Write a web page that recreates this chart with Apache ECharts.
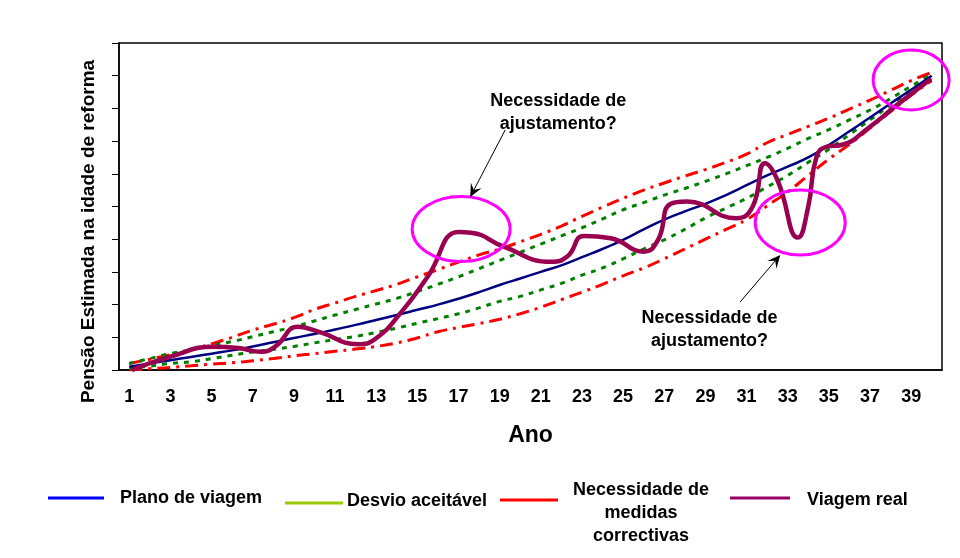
<!DOCTYPE html>
<html>
<head>
<meta charset="UTF-8">
<script src="https://cdn.jsdelivr.net/npm/echarts@6/dist/echarts.min.js"></script>
<title>Plano de viagem</title>
<style>
	html, body {
		margin: 0;
		padding: 0;
		background: #fff;
	}

	#main {
		width: 960px;
		height: 558px;
	}
</style>
</head>

<body>
	<div id="main"></div>
</body>
<script type="text/javascript">
	// categorias (anos) e séries
	var anos = ['1', '2', '3', '4', '5', '6', '7', '8', '9', '10',
		'11', '12', '13', '14', '15', '16', '17', '18', '19', '20',
		'21', '22', '23', '24', '25', '26', '27', '28', '29', '30',
		'31', '32', '33', '34', '35', '36', '37', '38', '39', '40'];

	var planoViagem = [0.1, 0.2, 0.3, 0.4, 0.5, 0.6, 0.72, 0.85, 0.98, 1.1,
		1.24, 1.38, 1.53, 1.68, 1.84, 2.0, 2.18, 2.38, 2.6, 2.8,
		3.0, 3.2, 3.45, 3.7, 3.98, 4.3, 4.6, 4.85, 5.08, 5.35,
		5.65, 5.95, 6.22, 6.5, 6.88, 7.3, 7.72, 8.15, 8.57, 9.0];

	var desvioSuperior = [0.2, 0.35, 0.5, 0.62, 0.75, 0.87, 1.02, 1.17, 1.32, 1.5,
		1.68, 1.85, 2.02, 2.19, 2.4, 2.62, 2.85, 3.1, 3.35, 3.6,
		3.85, 4.1, 4.35, 4.62, 4.9, 5.12, 5.35, 5.55, 5.77, 6.0,
		6.25, 6.5, 6.78, 7.08, 7.35, 7.65, 7.95, 8.3, 8.68, 9.05];

	var desvioInferior = [0.05, 0.12, 0.2, 0.25, 0.35, 0.45, 0.55, 0.63, 0.72, 0.83,
		0.93, 1.03, 1.15, 1.28, 1.43, 1.57, 1.72, 1.9, 2.1, 2.25,
		2.45, 2.65, 2.9, 3.12, 3.4, 3.7, 3.98, 4.3, 4.65, 4.95,
		5.25, 5.6, 5.95, 6.35, 6.75, 7.2, 7.65, 8.1, 8.55, 8.95];

	var medidasSuperior = [0.2, 0.33, 0.47, 0.62, 0.8, 1.0, 1.22, 1.4, 1.6, 1.85,
		2.05, 2.25, 2.43, 2.62, 2.85, 3.07, 3.3, 3.52, 3.7, 3.92,
		4.15, 4.4, 4.7, 4.98, 5.25, 5.5, 5.72, 5.93, 6.13, 6.35,
		6.6, 6.95, 7.2, 7.45, 7.7, 7.98, 8.25, 8.55, 8.85, 9.1];

	var medidasInferior = [0.0, 0.04, 0.08, 0.13, 0.18, 0.22, 0.28, 0.35, 0.43, 0.5,
		0.57, 0.64, 0.72, 0.83, 0.98, 1.17, 1.3, 1.42, 1.55, 1.72,
		1.92, 2.15, 2.38, 2.62, 2.88, 3.12, 3.4, 3.7, 4.0, 4.3,
		4.6, 5.02, 5.45, 5.95, 6.45, 6.9, 7.4, 7.9, 8.4, 8.85];

	// viagem real: pontos em anos fracionários (picos estreitos)
	var anosReal = [1.2, 3.0, 5.1, 6.3, 7.4, 8.1, 9.2, 10.3, 12.1, 13.0,
		14.3, 15.5, 17.0, 17.6, 19.2, 21.5, 22.3, 23.1, 24.4, 26.0,
		26.7, 27.3, 28.1, 30.5, 31.3, 31.9, 32.5, 33.5, 34.0, 34.4,
		34.9, 35.6, 37.0, 38.3, 39.9];
	var valoresReal = [0.02, 0.41, 0.71, 0.67, 0.56, 0.72, 1.32, 1.15, 0.79, 0.97,
		1.83, 2.85, 4.22, 4.2, 3.77, 3.31, 3.48, 4.1, 4.03, 3.62,
		3.98, 5.08, 5.15, 4.64, 5.0, 6.32, 5.81, 4.05, 5.0, 6.52,
		6.83, 6.88, 7.44, 8.1, 8.87];

	var fonte = '"Liberation Sans", Arial, sans-serif';

	var myChart = echarts.init(document.getElementById('main'));

	function linha(nome, dados, cor, largura, tipo, z) {
		return {
			name: nome,
			type: 'line',
			data: dados,
			smooth: true,
			showSymbol: false,
			silent: true,
			z: z,
			lineStyle: { color: cor, width: largura, type: tipo, cap: 'butt' }
		};
	}

	var real = linha('Viagem real', anosReal.map(function (a, i) { return [a, valoresReal[i]]; }),
		'#990050', 4.5, 'solid', 5);
	real.xAxisIndex = 1;
	real.lineStyle.cap = 'round';
	real.lineStyle.join = 'round';

	myChart.setOption({
		animation: false,
		grid: {
			left: 119, right: 18, top: 43, bottom: 188,
			show: true, borderColor: '#000', borderWidth: 1.5
		},
		xAxis: [
			{
				type: 'category',
				data: anos,
				boundaryGap: true,
				name: 'Ano',
				nameLocation: 'middle',
				nameGap: 54,
				nameTextStyle: { fontFamily: fonte, fontWeight: 'bold', fontSize: 23, color: '#000' },
				axisLine: { lineStyle: { color: '#000', width: 1.5 } },
				axisTick: { interval: 0, length: 5, lineStyle: { color: '#000' } },
				axisLabel: {
					interval: 1, margin: 18, color: '#000',
					fontFamily: fonte, fontWeight: 'bold', fontSize: 18
				},
				splitLine: { show: false }
			},
			{
				// eixo auxiliar para anos fracionários, alinhado com as categorias
				type: 'value', min: 0.5, max: 40.5, show: false
			}
		],
		yAxis: {
			type: 'value',
			min: 0, max: 10, interval: 1,
			name: 'Pensão Estimada na idade de reforma',
			nameLocation: 'middle',
			nameRotate: 90,
			nameGap: 21,
			nameTextStyle: {
				fontFamily: fonte, fontWeight: 'bold', fontSize: 19, color: '#000',
				padding: [0, 50, 0, 0]
			},
			axisLine: { show: true, lineStyle: { color: '#000', width: 1.5 } },
			axisTick: { show: true, length: 7, lineStyle: { color: '#000' } },
			axisLabel: { show: false },
			splitLine: { show: false }
		},
		series: [
			linha('Medidas inferior', medidasInferior, '#ff0000', 3, [13, 6, 3, 6], 2),
			linha('Medidas superior', medidasSuperior, '#ff0000', 3, [13, 6, 3, 6], 2),
			linha('Desvio inferior', desvioInferior, '#008000', 3, [5, 6], 3),
			linha('Desvio superior', desvioSuperior, '#008000', 3, [5, 6], 3),
			linha('Plano de viagem', planoViagem, '#000080', 2.5, 'solid', 4),
			real
		]
	});

	// posição em píxeis a partir de (ano, valor), pelo eixo auxiliar
	function px(ano, valor) {
		return myChart.convertToPixel({ seriesIndex: 5 }, [ano, valor]);
	}

	function seta(de, para) {
		var p0 = px(de[0], de[1]);
		var p1 = px(para[0], para[1]);
		var dx = p1[0] - p0[0], dy = p1[1] - p0[1];
		var len = Math.sqrt(dx * dx + dy * dy);
		var ux = dx / len, uy = dy / len;
		var nx = -uy, ny = ux;
		var L = 13, W = 6;
		return [
			{
				type: 'line', z: 20,
				shape: { x1: p0[0], y1: p0[1], x2: p1[0] - ux * 6, y2: p1[1] - uy * 6 },
				style: { stroke: '#000', lineWidth: 1 }
			},
			{
				type: 'polygon', z: 20,
				shape: {
					points: [
						[p1[0], p1[1]],
						[p1[0] - L * ux + W * nx, p1[1] - L * uy + W * ny],
						[p1[0] - 0.6 * L * ux, p1[1] - 0.6 * L * uy],
						[p1[0] - L * ux - W * nx, p1[1] - L * uy - W * ny]
					]
				},
				style: { fill: '#000' }
			}
		];
	}

	function elipse(ano, valor, rx, ry) {
		var c = px(ano, valor);
		return {
			type: 'ellipse', z: 19,
			shape: { cx: c[0], cy: c[1], rx: rx, ry: ry },
			style: { fill: 'none', stroke: '#ff00ff', lineWidth: 3 }
		};
	}

	function nota(ano, valor, texto) {
		var c = px(ano, valor);
		return {
			type: 'text', z: 21,
			style: {
				text: texto, x: c[0], y: c[1],
				align: 'center', verticalAlign: 'middle',
				font: 'bold 18px ' + fonte, lineHeight: 23, fill: '#000'
			}
		};
	}

	function itemLegenda(x1, x2, y, cor, tx, ty, texto, alinhar) {
		return [
			{
				type: 'line',
				shape: { x1: x1, y1: y, x2: x2, y2: y },
				style: { stroke: cor, lineWidth: 3 }
			},
			{
				type: 'text',
				style: {
					text: texto, x: tx, y: ty,
					align: alinhar, verticalAlign: 'middle',
					font: 'bold 18px ' + fonte, lineHeight: 23, fill: '#000'
				}
			}
		];
	}

	var graficos = [].concat(
		elipse(17.13, 4.31, 49, 32.5),
		elipse(33.61, 4.51, 45, 32.5),
		elipse(39.0, 8.87, 38, 30),
		nota(21.85, 7.87, 'Necessidade de\najustamento?'),
		nota(29.2, 1.25, 'Necessidade de\najustamento?'),
		seta([19.27, 7.34], [17.57, 5.29]),
		seta([30.69, 2.08], [32.64, 3.52]),
		itemLegenda(48, 104, 498, '#0000ff', 120, 498, 'Plano de viagem', 'left'),
		itemLegenda(285, 343, 503, '#99cc00', 347, 501, 'Desvio aceitável', 'left'),
		itemLegenda(500, 558, 500, '#ff0000', 641, 513, 'Necessidade de\nmedidas\ncorrectivas', 'center'),
		itemLegenda(730, 790, 498, '#990066', 807, 500, 'Viagem real', 'left')
	);

	myChart.setOption({ graphic: graficos });
</script>

</html>
